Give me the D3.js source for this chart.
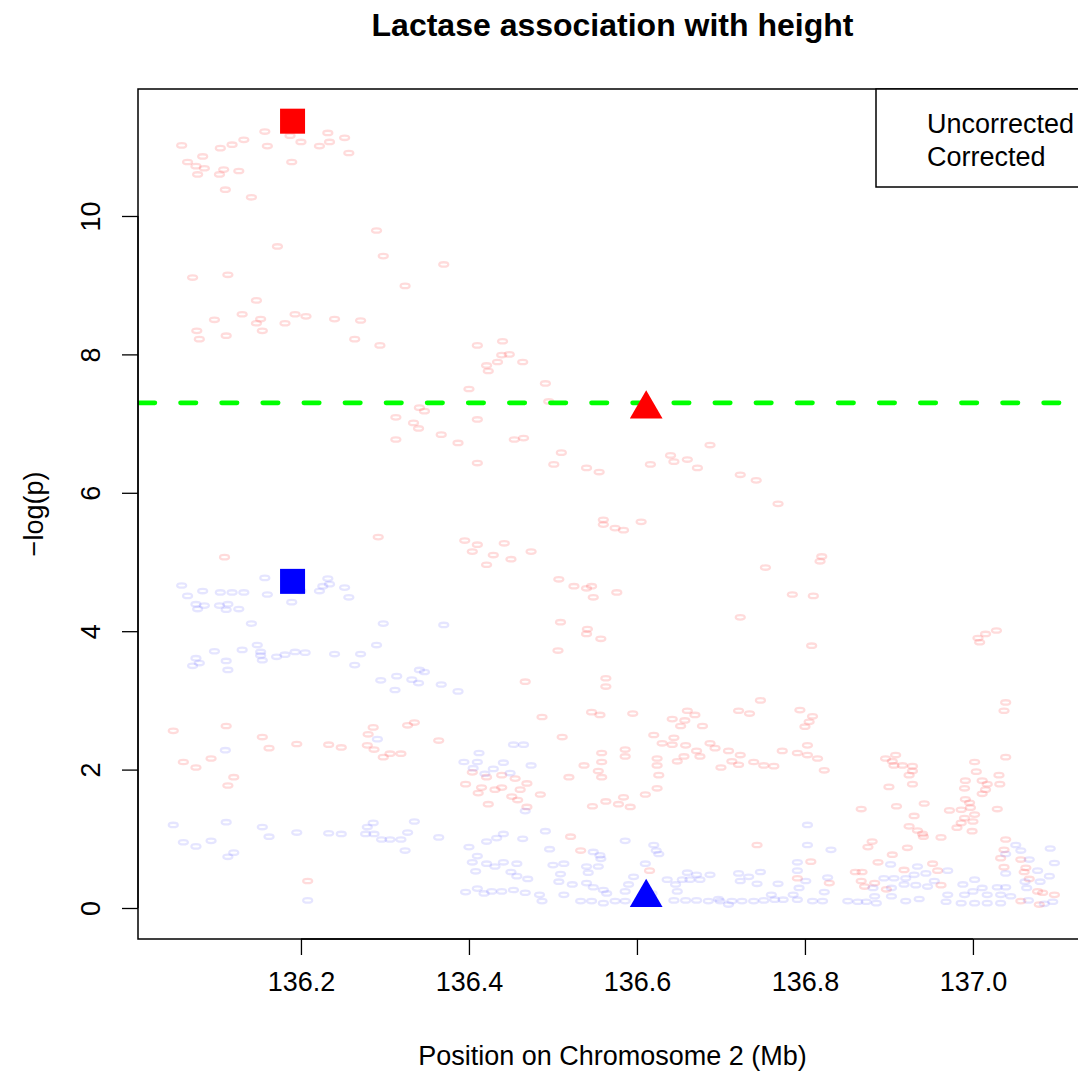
<!DOCTYPE html>
<html>
<head>
<meta charset="utf-8">
<script src="https://cdn.jsdelivr.net/npm/d3@7"></script>
<style>
  html, body { margin: 0; padding: 0; background: #fff; }
  svg { display: block; font-family: "Liberation Sans", Arial, Helvetica, sans-serif; }
</style>
</head>
<body>
<svg id="chart" width="1078" height="1072"></svg>
<script>
// ---------------- DATA ----------------
const titleText = "Lactase association with height";
const xLabel = "Position on Chromosome 2 (Mb)";
const yLabel = "\u2212log(p)";
const xTicks = [136.2, 136.4, 136.6, 136.8, 137.0];
const yTicks = [0, 2, 4, 6, 8, 10];
const legendLabels = ["Uncorrected", "Corrected"];
const gwThreshold = 7.3;               // -log10(5e-8)

// highlighted SNPs: [position (Mb), -log(p)]
const leadUncorrected = [136.190, 11.37];   // square, red
const leadCorrected   = [136.190, 4.72];    // square, blue
const lctUncorrected  = [136.611, 7.21];    // triangle, red
const lctCorrected    = [136.611, 0.15];    // triangle, blue

// uncorrected association: [position (Mb), -log(p)]
const uncorrected = [
[136.157,11.22],[136.187,11.16],[136.232,11.20],[136.252,11.13],[136.200,11.07],[136.234,11.07],[136.222,11.01],[136.257,10.91],[136.058,11.02],[136.083,10.86],[136.104,10.98],[136.118,11.03],[136.132,11.10],[136.160,11.01],[136.065,10.78],[136.075,10.72],[136.085,10.69],[136.108,10.67],[136.126,10.65],[136.077,10.60],[136.103,10.60],[136.189,10.78],[136.110,10.38],[136.141,10.27],[136.290,9.79],[136.172,9.56],[136.298,9.42],[136.370,9.30],[136.071,9.11],[136.113,9.15],[136.324,8.99],[136.147,8.78],
[136.097,8.50],[136.130,8.58],[136.152,8.51],[136.147,8.45],[136.193,8.58],[136.206,8.55],[136.181,8.45],[136.240,8.51],[136.271,8.49],[136.076,8.34],[136.079,8.22],[136.111,8.27],[136.154,8.34],[136.264,8.22],[136.294,8.13],[136.341,7.23],[136.347,7.18],[136.313,7.09],[136.334,7.01],[136.340,6.93],[136.367,6.84],[136.313,6.77],
[136.410,8.13],[136.440,8.19],[136.448,8.00],[136.439,7.99],[136.434,7.89],[136.464,7.89],[136.421,7.84],[136.423,7.76],[136.491,7.58],[136.400,7.50],[136.495,7.32],[136.410,7.06],[136.387,6.72],[136.454,6.77],[136.465,6.79],[136.510,6.58],[136.410,6.43],[136.501,6.41],[136.540,6.36],[136.555,6.30],[136.616,6.41],[136.640,6.54],[136.644,6.45],[136.660,6.48],[136.672,6.36],[136.687,6.69],[136.723,6.26],[136.742,6.18],
[136.768,5.84],[136.292,5.36],[136.109,5.07],[136.111,2.63],[136.286,2.61],[136.327,2.64],[136.335,2.68],
[136.560,5.61],[136.560,5.54],[136.584,5.46],[136.605,5.58],[136.574,5.49],[136.395,5.31],[136.410,5.25],[136.404,5.15],[136.442,5.27],[136.429,5.10],[136.450,5.04],[136.474,5.15],[136.421,4.96],[136.507,4.75],[136.525,4.65],[136.540,4.62],[136.546,4.65],[136.548,4.49],[136.576,4.56],[136.753,4.92],[136.509,4.13],[136.541,4.03],[136.540,3.96],[136.557,3.89],[136.723,4.20],[136.506,3.72],[136.467,3.27],[136.563,3.32],[136.563,3.20],[136.747,3.00],[136.487,2.76],[136.546,2.83],[136.556,2.79],[136.595,2.81],[136.660,2.85],[136.669,2.79],[136.642,2.73],[136.657,2.71],[136.652,2.63],[136.678,2.63],[136.721,2.85],[136.734,2.81],
[136.820,5.08],[136.818,5.01],[136.785,4.53],[136.810,4.51],[136.808,3.79],[137.028,4.01],[137.015,3.96],[137.006,3.90],[137.008,3.84],[137.039,2.97],[137.037,2.85],[136.794,2.86],[136.809,2.77],[136.805,2.69],[136.800,2.62],
[136.048,2.56],[136.154,2.47],[136.162,2.31],[136.195,2.37],[136.233,2.36],[136.248,2.32],[136.280,2.51],[136.279,2.35],[136.287,2.29],[136.298,2.18],[136.306,2.23],[136.319,2.23],[136.364,2.42],[136.060,2.11],[136.075,2.03],[136.093,2.16],[136.120,1.89],[136.113,1.77],[136.208,0.39],
[136.511,2.47],[136.620,2.50],[136.630,2.38],[136.644,2.46],[136.642,2.36],[136.658,2.35],[136.671,2.27],[136.675,2.19],[136.656,2.19],[136.693,2.31],[136.687,2.38],[136.709,2.27],[136.723,2.21],[136.713,2.12],[136.700,2.03],[136.721,2.07],[136.739,2.11],[136.751,2.06],[136.648,2.12],[136.586,2.29],[136.586,2.19],[136.558,2.24],[136.558,2.11],[136.537,2.06],[136.624,2.16],[136.624,2.06],[136.626,1.92],[136.624,1.73],[136.610,1.64],[136.554,1.98],[136.558,1.89],[136.519,1.89],[136.404,1.96],[136.421,1.89],[136.439,1.92],[136.455,1.87],[136.469,1.80],[136.396,1.79],[136.415,1.74],[136.431,1.71],[136.461,1.71],[136.411,1.66],[136.439,1.74],[136.451,1.61],[136.458,1.56],[136.485,1.64],[136.423,1.50],[136.469,1.46],[136.547,1.47],[136.563,1.54],[136.578,1.50],[136.584,1.60],[136.592,1.46],[136.521,1.03],[136.533,0.83],[136.615,0.54],[136.743,0.91],
[136.803,2.35],[136.773,2.27],[136.791,2.24],[136.803,2.21],[136.815,2.16],[136.763,2.05],[136.823,1.99],[136.908,2.21],[136.896,2.16],[136.904,2.12],[136.906,2.06],[136.916,2.06],[136.928,2.05],[136.928,1.98],[136.924,1.92],[136.928,1.79],[136.900,1.75],[137.002,2.11],[137.039,2.18],[137.004,1.97],[137.031,1.92],[136.991,1.84],[137.011,1.84],[137.017,1.79],[137.032,1.79],[136.990,1.73],[137.015,1.71],[137.011,1.65],[136.991,1.57],[136.996,1.52],[136.997,1.45],[136.986,1.42],[136.972,1.41],[137.029,1.43],[136.942,1.51],[136.909,1.47],[136.867,1.43],[136.930,1.33],[137.002,1.35],[136.990,1.30],[137.000,1.25],[136.986,1.23],[136.924,1.18],[136.934,1.12],[136.940,1.07],[136.981,1.16],[136.999,1.11],[136.962,1.02],[136.941,1.03],[136.880,0.96],[136.875,0.88],[136.922,0.87],[136.904,0.77],[136.887,0.66],[136.807,0.67],[136.952,0.64],[136.918,0.55],[136.860,0.52],[136.868,0.52],[136.958,0.54],[136.791,0.43],[136.829,0.36],[136.867,0.39],[136.871,0.31],[136.883,0.36],[136.897,0.27],[136.962,0.33],[137.039,0.99],[137.037,0.84],[137.033,0.72],[137.037,0.59],[137.057,0.70],[137.063,0.58],[137.061,0.52],[137.067,0.42],[137.077,0.24],[137.083,0.22],[137.097,0.19],[137.057,0.10],[137.079,0.05]
];

// corrected association: [position (Mb), -log(p)]
const corrected = [
[136.058,4.66],[136.065,4.51],[136.083,4.58],[136.104,4.56],[136.118,4.56],[136.132,4.56],[136.157,4.77],[136.160,4.53],[136.189,4.42],[136.200,4.58],[136.232,4.76],[136.234,4.68],[136.226,4.65],[136.222,4.58],[136.252,4.63],[136.257,4.49],[136.075,4.39],[136.085,4.37],[136.077,4.32],[136.103,4.37],[136.113,4.39],[136.111,4.31],[136.126,4.32],[136.141,4.11],[136.298,4.11],[136.370,4.09],[136.148,3.80],[136.097,3.71],[136.130,3.73],[136.152,3.70],[136.152,3.65],[136.154,3.58],[136.171,3.63],[136.181,3.66],[136.193,3.70],[136.205,3.69],[136.240,3.67],[136.271,3.67],[136.264,3.51],[136.290,3.80],[136.075,3.61],[136.079,3.54],[136.071,3.50],[136.111,3.57],[136.113,3.44],[136.341,3.44],[136.347,3.41],[136.314,3.35],[136.295,3.29],[136.332,3.30],[136.340,3.25],[136.367,3.23],[136.312,3.15],[136.387,3.13],
[136.110,2.28],[136.291,2.44],[136.048,1.20],[136.111,1.24],[136.154,1.17],[136.162,1.03],[136.195,1.09],[136.233,1.08],[136.248,1.07],[136.277,1.07],[136.279,1.17],[136.286,1.23],[136.287,1.07],[136.296,0.99],[136.306,0.99],[136.319,0.99],[136.327,1.09],[136.335,1.25],[136.364,1.02],[136.060,0.95],[136.075,0.89],[136.093,0.97],[136.120,0.80],[136.113,0.74],[136.324,0.83],[136.208,0.11],
[136.412,2.24],[136.453,2.36],[136.465,2.36],[136.394,2.11],[136.410,2.11],[136.405,2.02],[136.429,2.01],[136.441,2.10],[136.474,2.06],[136.419,1.94],[136.449,1.95],[136.467,1.40],[136.491,1.11],[136.441,1.07],[136.433,1.01],[136.421,0.96],[136.464,1.00],[136.400,0.88],[136.496,0.85],[136.586,0.97],[136.620,0.91],[136.623,0.83],[136.626,0.78],[136.548,0.81],[136.556,0.76],[136.557,0.71],[136.410,0.75],[136.404,0.66],[136.421,0.64],[136.431,0.60],[136.441,0.66],[136.457,0.64],[136.500,0.62],[136.513,0.64],[136.509,0.49],[136.540,0.60],[136.554,0.60],[136.542,0.51],[136.610,0.64],[136.408,0.53],[136.450,0.52],[136.457,0.46],[136.470,0.42],[136.507,0.38],[136.523,0.34],[136.540,0.36],[136.548,0.30],[136.596,0.45],[136.590,0.34],[136.560,0.26],[136.564,0.21],[136.586,0.24],[136.396,0.23],[136.410,0.28],[136.418,0.21],[136.427,0.24],[136.439,0.24],[136.453,0.26],[136.467,0.22],[136.484,0.19],[136.513,0.19],[136.487,0.10],[136.533,0.10],[136.546,0.10],[136.560,0.07],[136.574,0.10],[136.586,0.10],[136.618,0.21],[136.636,0.41],[136.646,0.34],[136.648,0.24],[136.660,0.51],[136.671,0.48],[136.663,0.41],[136.675,0.41],[136.687,0.48],[136.654,0.41],[136.644,0.11],[136.658,0.11],[136.671,0.11],[136.685,0.10],[136.699,0.10],[136.713,0.10],[136.725,0.10],[136.739,0.10],[136.751,0.11],[136.721,0.50],[136.733,0.45],[136.747,0.52],[136.743,0.35],[136.723,0.39],[136.697,0.13],[136.709,0.05],
[136.803,1.20],[136.803,0.91],[136.831,0.84],[136.791,0.66],[136.791,0.54],[136.768,0.35],[136.801,0.39],[136.793,0.29],[136.827,0.44],[136.823,0.23],[136.760,0.19],[136.786,0.19],[136.774,0.12],[136.764,0.12],[136.791,0.12],[136.809,0.10],[136.821,0.10],[136.851,0.10],[136.863,0.09],[136.873,0.09],[136.885,0.07],[136.902,0.63],[136.894,0.43],[136.906,0.43],[136.920,0.43],[136.930,0.48],[136.934,0.60],[136.944,0.50],[136.970,0.54],[136.881,0.29],[136.903,0.29],[136.918,0.34],[136.932,0.33],[136.946,0.31],[136.954,0.39],[136.883,0.17],[136.903,0.17],[136.936,0.13],[136.920,0.10],[136.970,0.19],[136.968,0.09],[136.988,0.34],[137.002,0.41],[136.990,0.19],[137.000,0.24],[137.011,0.29],[137.029,0.30],[137.039,0.30],[137.017,0.19],[137.033,0.19],[137.045,0.17],[136.986,0.07],[137.002,0.07],[137.017,0.07],[137.033,0.07],[137.051,0.91],[137.057,0.83],[137.039,0.78],[137.067,0.70],[137.092,0.86],[137.097,0.65],[137.077,0.54],[137.091,0.46],[137.039,0.50],[137.080,0.38],[137.062,0.38],[137.064,0.29],[137.066,0.11],[137.095,0.09],[137.085,0.06]
];

// ---------------- LAYOUT ----------------
const plot = { left: 138, right: 1087, top: 89, bottom: 939 };
const svg = d3.select("#chart");

const x = d3.scaleLinear().domain([136.006, 137.1358]).range([plot.left, plot.right]);
const y = d3.scaleLinear().domain([-0.448, 11.835]).range([plot.bottom, plot.top]);

svg.append("defs").append("clipPath").attr("id", "plotClip")
  .append("rect")
  .attr("x", plot.left).attr("y", plot.top)
  .attr("width", plot.right - plot.left).attr("height", plot.bottom - plot.top);

// ---------------- POINTS ----------------
const pts = svg.append("g").attr("clip-path", "url(#plotClip)");
function ring(data, color) {
  pts.append("g").selectAll("ellipse").data(data).join("ellipse")
    .attr("cx", d => x(d[0]))
    .attr("cy", d => y(d[1]))
    .attr("rx", 4.5).attr("ry", 2.2)
    .attr("fill", "none")
    .attr("stroke", color)
    .attr("stroke-width", 2.3);
}
ring(uncorrected, "rgba(255,0,0,0.14)");
ring(corrected, "rgba(0,0,255,0.10)");

// genome-wide threshold
pts.append("line")
  .attr("x1", plot.left).attr("x2", plot.right)
  .attr("y1", y(gwThreshold)).attr("y2", y(gwThreshold))
  .attr("stroke", "#00ff00")
  .attr("stroke-width", 4.6)
  .attr("stroke-linecap", "round")
  .attr("stroke-dasharray", "15.5 25.6")
  .attr("stroke-dashoffset", -1.4);

// highlighted markers
const sq = 25;
[[leadUncorrected, "#ff0000"], [leadCorrected, "#0000ff"]].forEach(([d, c]) => {
  pts.append("rect")
    .attr("x", x(d[0]) - sq / 2).attr("y", y(d[1]) - sq / 2)
    .attr("width", sq).attr("height", sq).attr("fill", c);
});
const r = 18.9;
const tri = d3.symbol().type({
  draw(ctx) {
    const xc = r * Math.sqrt(3) / 2;
    ctx.moveTo(0, -r); ctx.lineTo(xc, r / 2); ctx.lineTo(-xc, r / 2); ctx.closePath();
  }
});
[[lctUncorrected, "#ff0000"], [lctCorrected, "#0000ff"]].forEach(([d, c]) => {
  pts.append("path")
    .attr("transform", `translate(${x(d[0])},${y(d[1])})`)
    .attr("d", tri()).attr("fill", c);
});

// ---------------- AXES ----------------
const fs = 27;
const xAxis = svg.append("g")
  .attr("transform", `translate(0,${plot.bottom})`)
  .call(d3.axisBottom(x).tickValues(xTicks).tickFormat(d3.format(".1f"))
        .tickSize(16).tickSizeOuter(0).tickPadding(17));
xAxis.select(".domain").remove();
xAxis.selectAll("line").attr("stroke", "#000").attr("stroke-width", 1.3);
xAxis.selectAll("text").attr("font-size", fs).attr("fill", "#000")
  .attr("font-family", "Liberation Sans, Arial, sans-serif");
xAxis.append("line")
  .attr("x1", x(xTicks[0])).attr("x2", x(xTicks[xTicks.length - 1]))
  .attr("stroke", "#000").attr("stroke-width", 1.3);

const yAxis = svg.append("g")
  .attr("transform", `translate(${plot.left},0)`)
  .call(d3.axisLeft(y).tickValues(yTicks).tickFormat(d3.format("d"))
        .tickSize(16).tickSizeOuter(0));
yAxis.select(".domain").remove();
yAxis.selectAll("line").attr("stroke", "#000").attr("stroke-width", 1.3);
yAxis.selectAll("text")
  .attr("x", null).attr("dy", null)
  .attr("transform", "translate(-38,0) rotate(-90)")
  .attr("text-anchor", "middle")
  .attr("font-size", fs).attr("fill", "#000")
  .attr("font-family", "Liberation Sans, Arial, sans-serif");
yAxis.append("line")
  .attr("y1", y(yTicks[0])).attr("y2", y(yTicks[yTicks.length - 1]))
  .attr("stroke", "#000").attr("stroke-width", 1.3);

// plot box
svg.append("rect")
  .attr("x", plot.left).attr("y", plot.top)
  .attr("width", plot.right - plot.left).attr("height", plot.bottom - plot.top)
  .attr("fill", "none").attr("stroke", "#000").attr("stroke-width", 1.5);

// ---------------- TEXT ----------------
const cx = (plot.left + plot.right) / 2;
svg.append("text")
  .attr("x", cx).attr("y", 36)
  .attr("text-anchor", "middle")
  .attr("font-size", 32).attr("font-weight", "bold")
  .text(titleText);

svg.append("text")
  .attr("x", cx).attr("y", 1065)
  .attr("text-anchor", "middle")
  .attr("font-size", fs)
  .text(xLabel);

svg.append("text")
  .attr("transform", `translate(43,${(plot.top + plot.bottom) / 2}) rotate(-90)`)
  .attr("text-anchor", "middle")
  .attr("font-size", fs)
  .text(yLabel);

// ---------------- LEGEND ----------------
const leg = svg.append("g");
leg.append("rect")
  .attr("x", 876).attr("y", plot.top)
  .attr("width", plot.right - 876).attr("height", 98)
  .attr("fill", "#fff").attr("stroke", "#000").attr("stroke-width", 1.5);
legendLabels.forEach((t, i) => {
  leg.append("text")
    .attr("x", 927).attr("y", 133 + i * 32.5)
    .attr("font-size", fs)
    .text(t);
});
</script>
</body>
</html>
